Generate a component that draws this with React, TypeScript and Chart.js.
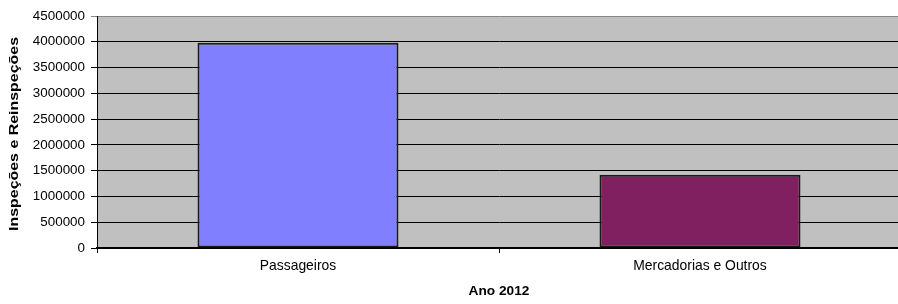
import React, { useEffect, useRef } from "react";
import { Chart, registerables } from "chart.js";

Chart.register(...registerables);

const categories = ["Passageiros", "Mercadorias e Outros"];
const values = [3980000, 1420000];
const barColors = ["#8080FF", "#802060"];
const yMin = 0;
const yMax = 4500000;
const yStep = 500000;
const yTitle = "Inspeções e Reinspeções";
const xTitle = "Ano 2012";

const FONT = "'Liberation Sans', Arial, sans-serif";

const plotBg = {
  id: "plotBg",
  beforeDraw(chart: any) {
    const { ctx, chartArea } = chart;
    if (!chartArea) return;
    ctx.save();
    ctx.fillStyle = "#C0C0C0";
    ctx.fillRect(chartArea.left, chartArea.top, chartArea.right - chartArea.left, chartArea.bottom - chartArea.top);
    ctx.restore();
  },
};

// Y-axis title: the reference renders it stretched along its reading direction
const yTitlePlugin = {
  id: "yTitlePlugin",
  afterDraw(chart: any) {
    const { ctx, chartArea } = chart;
    if (!chartArea) return;
    ctx.save();
    ctx.font = "bold 12.5px " + FONT;
    ctx.fillStyle = "#000";
    ctx.textAlign = "center";
    ctx.textBaseline = "middle";
    const w = ctx.measureText(yTitle).width;
    const target = 194;
    ctx.translate(15, (chartArea.top + chartArea.bottom) / 2 + 2);
    ctx.rotate(-Math.PI / 2);
    ctx.scale(target / w, 1);
    ctx.fillText(yTitle, 0, 0);
    ctx.restore();
  },
};

export default function App() {
  const ref = useRef<HTMLCanvasElement | null>(null);
  useEffect(() => {
    if (!ref.current) return;
    const chart = new Chart(ref.current, {
      type: "bar",
      data: {
        labels: categories,
        datasets: [
          {
            data: values,
            backgroundColor: barColors,
            borderColor: "#1a1a1a",
            borderWidth: 2,
            borderSkipped: false,
            categoryPercentage: 1,
            barPercentage: 0.5,
          },
        ],
      },
      options: {
        animation: false,
        responsive: false,
        maintainAspectRatio: false,
        devicePixelRatio: 1,
        layout: { padding: { left: 0, top: 16, right: 9, bottom: 0 } },
        plugins: { legend: { display: false }, tooltip: { enabled: false } },
        scales: {
          x: {
            offset: true,
            grid: {
              display: true,
              drawOnChartArea: false,
              drawTicks: true,
              offset: true,
              tickLength: 5,
              color: "#000",
            },
            border: { display: true, color: "#000", width: 1.5 },
            ticks: { color: "#000", font: { family: FONT, size: 13.9 }, padding: 5, maxRotation: 0 },
            title: {
              display: true,
              text: xTitle,
              color: "#000",
              font: { family: FONT, size: 13.7, weight: "bold" },
              padding: { top: 0, bottom: 5 },
            },
            afterFit(scale: any) {
              scale.height = 56;
            },
          },
          y: {
            min: yMin,
            max: yMax,
            ticks: {
              stepSize: yStep,
              color: "#000",
              font: { family: FONT, size: 13.4 },
              padding: 6,
              callback: (v: any) => String(v),
            },
            grid: {
              color: (ctx: any) => (ctx.tick && ctx.tick.value === yMax ? "#888" : "#000"),
              lineWidth: 1,
              tickLength: 6,
              drawTicks: true,
            },
            border: { display: true, color: "#000", width: 1 },
            title: { display: false },
            afterFit(scale: any) {
              scale.width = 97;
            },
          },
        },
      },
      plugins: [plotBg, yTitlePlugin],
    });
    return () => chart.destroy();
  }, []);
  return (
    <div style={{ position: "fixed", left: 0, top: 0, width: 898, height: 304, overflow: "hidden", background: "#fff" }}>
      <canvas ref={ref} width={910} height={304} style={{ display: "block", width: 910, height: 304 }} />
    </div>
  );
}
